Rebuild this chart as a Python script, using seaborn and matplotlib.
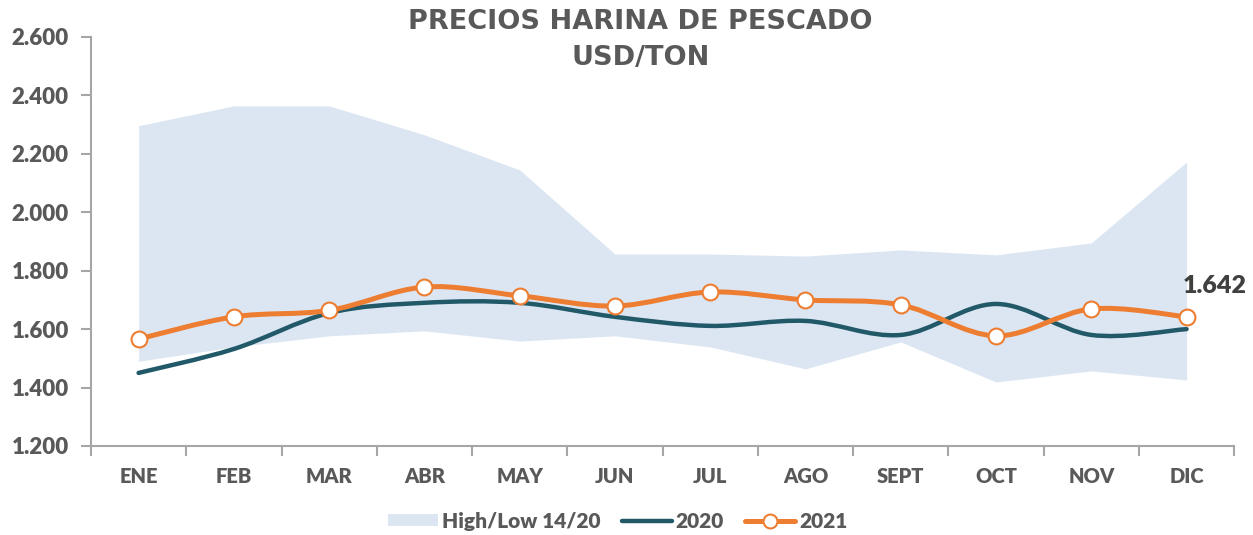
import numpy as np
import pandas as pd
import matplotlib
matplotlib.use("Agg")
import matplotlib.pyplot as plt
import seaborn as sns
from matplotlib.path import Path
from matplotlib.patches import PathPatch, Patch
from matplotlib.lines import Line2D
from matplotlib.ticker import FuncFormatter, FixedLocator

months = ["ENE", "FEB", "MAR", "ABR", "MAY", "JUN", "JUL", "AGO", "SEPT", "OCT", "NOV", "DIC"]
high_1420 = [2296, 2364, 2364, 2265, 2145, 1857, 1857, 1850, 1871, 1854, 1895, 2172]
low_1420 = [1490, 1539, 1577, 1594, 1559, 1577, 1539, 1464, 1556, 1419, 1457, 1426]
prices_2020 = [1450, 1532, 1655, 1690, 1690, 1642, 1611, 1628, 1580, 1686, 1580, 1600]
prices_2021 = [1566, 1642, 1664, 1744, 1714, 1679, 1727, 1700, 1683, 1577, 1669, 1642]
y_ticks = [1200, 1400, 1600, 1800, 2000, 2200, 2400, 2600]

df = pd.DataFrame({"mes": months, "x": np.arange(len(months)),
                   "high": high_1420, "low": low_1420,
                   "p2020": prices_2020, "p2021": prices_2021})

sns.set_theme(style="white")
plt.rcParams["font.family"] = ["Lato", "DejaVu Sans"]
plt.rcParams["font.weight"] = "heavy"

GRAY = "#595959"
FILL = "#DCE6F2"
TEAL = "#215968"
ORANGE = "#ED7D31"
W = "heavy"

fig = plt.figure(figsize=(12.53, 5.35), dpi=100)
ax = fig.add_axes([0.0726, 0.1664, 0.9124, 0.7646])


def smooth_path(xs, ys):
    pts = np.column_stack([xs, ys]).astype(float)
    verts = [pts[0]]
    codes = [Path.MOVETO]
    n = len(pts)
    for i in range(n - 1):
        p0 = pts[i - 1] if i > 0 else pts[i]
        p1 = pts[i]
        p2 = pts[i + 1]
        p3 = pts[i + 2] if i + 2 < n else pts[i + 1]
        c1 = p1 + (p2 - p0) / 6.0
        c2 = p2 - (p3 - p1) / 6.0
        verts += [c1, c2, p2]
        codes += [Path.CURVE4] * 3
    return Path(verts, codes)


ax.fill_between(df["x"], df["low"], df["high"], color=FILL, linewidth=0, zorder=1)

ax.add_patch(PathPatch(smooth_path(df["x"], df["p2020"]), facecolor="none",
                       edgecolor=TEAL, linewidth=3.2, capstyle="round", zorder=3))
ax.add_patch(PathPatch(smooth_path(df["x"], df["p2021"]), facecolor="none",
                       edgecolor=ORANGE, linewidth=3.6, capstyle="round", zorder=4))
sns.scatterplot(data=df, x="x", y="p2021", ax=ax, s=130, marker="o",
                facecolor="white", edgecolor=ORANGE, linewidth=1.5, zorder=5, legend=False)

last = df.iloc[-1]
ax.annotate(f"{last['p2021']:,.0f}".replace(",", "."), xy=(last["x"], last["p2021"]),
            xytext=(-3, 14), textcoords="offset points", ha="left", va="bottom",
            fontsize=18, fontweight=W, color="#404040", zorder=6)

ax.set_xlim(-0.5, len(months) - 0.5)
ax.set_ylim(y_ticks[0], y_ticks[-1])
ax.set_yticks(y_ticks)
ax.yaxis.set_major_formatter(FuncFormatter(lambda v, p: f"{v:,.0f}".replace(",", ".")))
ax.xaxis.set_major_locator(FixedLocator(np.arange(-0.5, len(months), 1.0)))
ax.xaxis.set_major_formatter(FuncFormatter(lambda v, p: ""))
ax.xaxis.set_minor_locator(FixedLocator(np.arange(len(months))))
ax.set_xticklabels(months, minor=True)
ax.tick_params(axis="x", which="major", direction="out", length=7, width=1.5, color="#A6A6A6", bottom=True)
ax.tick_params(axis="x", which="minor", length=0, pad=15, labelsize=14.5, labelcolor=GRAY)
ax.tick_params(axis="y", direction="out", length=7, width=1.5, color="#A6A6A6", left=True,
               labelsize=16, labelcolor=GRAY, pad=9)
for lab in ax.get_xticklabels(minor=True) + ax.get_yticklabels():
    lab.set_fontweight(W)
ax.set_xlabel("")
ax.set_ylabel("")
for s in ["top", "right"]:
    ax.spines[s].set_visible(False)
for s in ["left", "bottom"]:
    ax.spines[s].set_color("#A6A6A6")
    ax.spines[s].set_linewidth(1.5)

fig.text(0.511, 0.983, "PRECIOS HARINA DE PESCADO\nUSD/TON", ha="center", va="top",
         fontsize=19.5, fontweight="bold", color=GRAY, linespacing=1.5,
         family=["DejaVu Sans"])

handles = [Patch(facecolor=FILL, edgecolor="none"),
           Line2D([], [], color=TEAL, linewidth=3.2),
           Line2D([], [], color=ORANGE, linewidth=3.6, marker="o", markersize=10,
                  markerfacecolor="white", markeredgecolor=ORANGE, markeredgewidth=1.5)]
leg = fig.legend(handles, ["High/Low 14/20", "2020", "2021"], loc="center",
                 bbox_to_anchor=(0.493, 0.026), ncol=3, frameon=False, fontsize=15,
                 handlelength=2.4, handleheight=0.55, handletextpad=0.2, columnspacing=1.0)
for t in leg.get_texts():
    t.set_color(GRAY)
    t.set_fontweight(W)

fig.savefig("out.png", dpi=100)
